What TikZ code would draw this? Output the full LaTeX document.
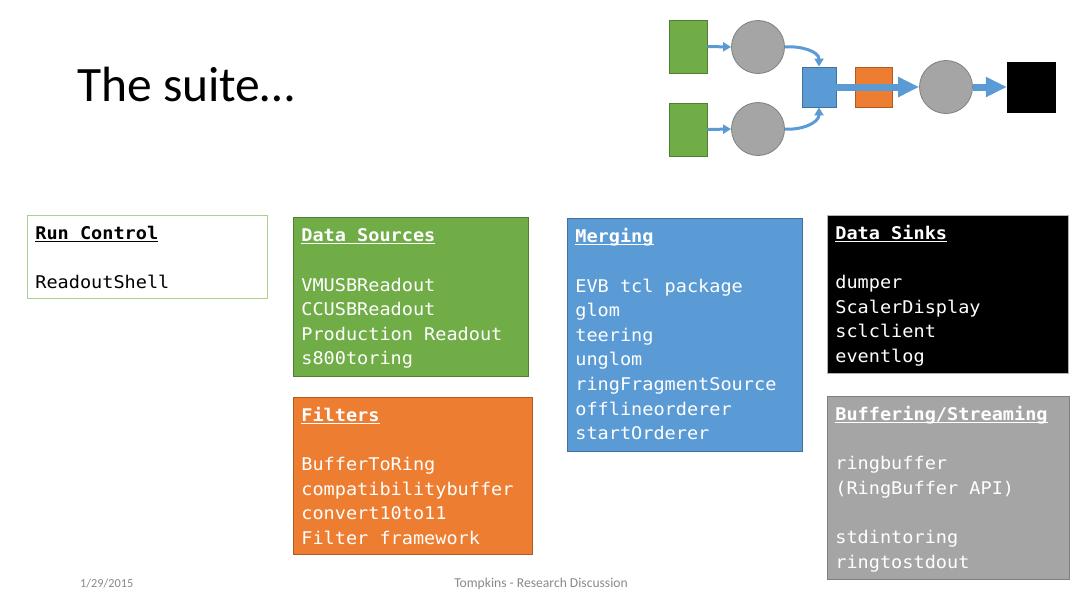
\documentclass[tikz,border=0pt]{standalone}
\usepackage{fontspec}
\setmainfont{Carlito}
\newfontfamily\codefont[FakeStretch=1.06]{DejaVu Sans Mono}
\usetikzlibrary{arrows.meta}

\definecolor{srcgreen}{HTML}{70AD47}
\definecolor{srcgreenline}{HTML}{507E32}
\definecolor{runline}{HTML}{A9D18E}
\definecolor{mergeblue}{HTML}{5B9BD5}
\definecolor{mergeline}{HTML}{41719C}
\definecolor{filtorange}{HTML}{ED7D31}
\definecolor{filtline}{HTML}{AE5A21}
\definecolor{ringgray}{HTML}{A5A5A5}
\definecolor{ringline}{HTML}{7F7F7F}
\definecolor{footgray}{HTML}{898989}

% bold heading with an underline at a fixed depth
\newcommand\boxhead[1]{\rule{0pt}{16pt}\textbf{\setbox0\hbox{#1}\rlap{\rule[-2.6pt]{\wd0}{1.3pt}}\box0}}

\tikzset{
  panel/.style={draw, line width=0.9pt, anchor=north west, inner sep=0pt},
  paneltext/.style={anchor=north west, inner sep=0pt, align=left,
    font=\codefont\fontsize{17.5}{24.6}\selectfont},
  srcbox/.style={draw=srcgreenline, fill=srcgreen, line width=0.8pt, minimum width=38pt, minimum height=53pt, inner sep=0pt},
  ringnode/.style={circle, draw=ringline, fill=ringgray, line width=0.8pt, minimum size=53pt, inner sep=0pt},
  thinflow/.style={draw=mergeblue, line width=3pt, -{Triangle[length=8pt,width=9pt]}},
  thickflow/.style={draw=mergeblue, line width=7pt, -{Triangle[length=21pt,width=19pt]}},
}

\begin{document}
\begin{tikzpicture}[x=1pt, y=-1pt]
\useasboundingbox (0,0) rectangle (1086,606);

% title
\node[anchor=base west, inner sep=0pt, font=\fontsize{49.5}{60}\selectfont] (title) at (77,101) {The suite…};

% pipeline sketch
\node[srcbox] (src1) at (688,46.5) {};
\node[srcbox] (src2) at (688,129.5) {};
\node[ringnode] (ring1) at (758,47) {};
\node[ringnode] (ring2) at (758,129) {};
\node[draw=mergeline, fill=mergeblue, line width=0.8pt, minimum width=34pt, minimum height=40pt, inner sep=0pt] (evb) at (819,87) {};
\node[draw=filtline, fill=filtorange, line width=0.8pt, minimum width=37pt, minimum height=40pt, inner sep=0pt] (filt) at (873.5,87) {};
\node[ringnode] (ring3) at (946,87) {};
\node[draw=black, fill=black, minimum width=48pt, minimum height=50pt, inner sep=0pt] (sink) at (1031,87) {};

\draw[thinflow] (src1.east) -- (ring1.west);
\draw[thinflow] (src2.east) -- (ring2.west);
\draw[thinflow] (ring1.east) to[out=5, in=90] (evb.north);
\draw[thinflow] (ring2.east) to[out=-5, in=-90] (evb.south);
\draw[thickflow] (evb.east) -- (ring3.west);
\draw[thickflow] (ring3.east) -- (sink.west);

% panels
\node[panel, draw=runline, fill=white, minimum width=240pt, minimum height=83pt] (runbox) at (26.7,215) {};
\node[paneltext, text=black] (runtext) at (35.2,223.3) {\boxhead{Run Control}\\[24.6pt]ReadoutShell};

\node[panel, draw=srcgreenline, fill=srcgreen, minimum width=235.6pt, minimum height=158.7pt] (srcpanel) at (292.7,217.3) {};
\node[paneltext, text=white] (srctext) at (301.2,225.6) {\boxhead{Data Sources}\\[24.6pt]VMUSBReadout\\CCUSBReadout\\Production Readout\\s800toring};

\node[panel, draw=filtline, fill=filtorange, minimum width=239.6pt, minimum height=157.6pt] (filtpanel) at (292.7,396.7) {};
\node[paneltext, text=white] (filttext) at (301.2,405) {\boxhead{Filters}\\[24.6pt]BufferToRing\\compatibilitybuffer\\convert10to11\\Filter framework};

\node[panel, draw=mergeline, fill=mergeblue, minimum width=235.6pt, minimum height=232.4pt] (mergepanel) at (566.7,218.3) {};
\node[paneltext, text=white] (mergetext) at (575.2,226.6) {\boxhead{Merging}\\[24.6pt]EVB tcl package\\glom\\teering\\unglom\\ringFragmentSource\\offlineorderer\\startOrderer};

\node[panel, draw=ringline!60, fill=black, minimum width=241pt, minimum height=158.3pt] (sinkpanel) at (826.7,215) {};
\node[paneltext, text=white] (sinktext) at (835.2,223.3) {\boxhead{Data Sinks}\\[24.6pt]dumper\\ScalerDisplay\\sclclient\\eventlog};

\node[panel, draw=ringline, fill=ringgray, minimum width=242.6pt, minimum height=183.3pt] (bufpanel) at (826.7,396) {};
\node[paneltext, text=white] (buftext) at (835.2,404.3) {\boxhead{Buffering/Streaming}\\[24.6pt]ringbuffer\\(RingBuffer API)\\[24.6pt]stdintoring\\ringtostdout};

% footer
\node[anchor=base west, inner sep=0pt, text=footgray, font=\fontsize{12.3}{14}\selectfont] (date) at (80,587) {1/29/2015};
\node[anchor=base, inner sep=0pt, text=footgray, font=\fontsize{13.6}{16}\selectfont] (footer) at (541,587) {Tompkins - Research Discussion};
\end{tikzpicture}
\end{document}
